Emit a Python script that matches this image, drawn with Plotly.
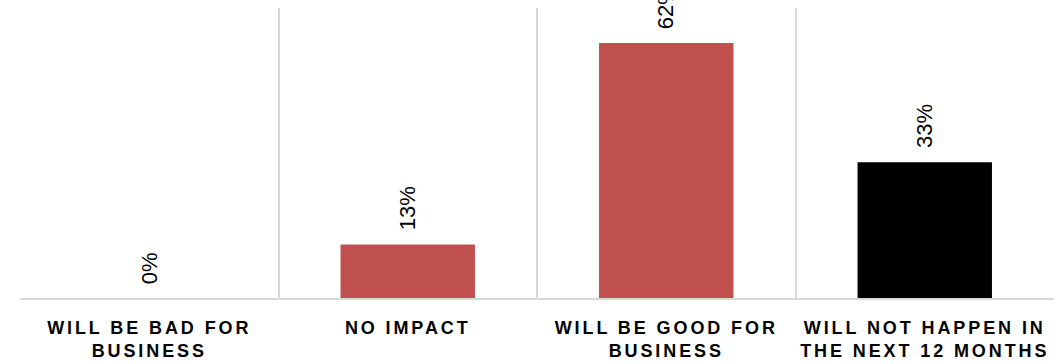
import plotly.graph_objects as go

categories = ["WILL BE BAD FOR<br>BUSINESS", "NO IMPACT", "WILL BE GOOD FOR<br>BUSINESS",
              "WILL NOT HAPPEN IN<br>THE NEXT 12 MONTHS"]
values = [0, 13, 62, 33]
value_labels = ["0%", "13%", "62%", "33%"]
colors = ["#C0504D", "#C0504D", "#C0504D", "#000000"]

fig = go.Figure()
fig.add_trace(go.Bar(x=categories, y=values, marker=dict(color=colors, line=dict(width=0)),
                     width=0.52, hoverinfo="skip"))

for c, v, t in zip(categories, values, value_labels):
    fig.add_annotation(x=c, y=v, text=t, showarrow=False, textangle=-90,
                       yanchor="bottom", xanchor="center", yshift=12,
                       font=dict(family="Liberation Sans", size=22, color="#000000"))

fig.update_layout(
    width=1063, height=364,
    margin=dict(l=20, r=9, t=8, b=66, autoexpand=False),
    paper_bgcolor="white", plot_bgcolor="white",
    showlegend=False,
    bargap=0.48,
)
fig.update_xaxes(
    type="category", range=[-0.5, 3.5], tickson="boundaries", automargin=False,
    showgrid=True, gridcolor="#D9D9D9", gridwidth=2,
    showline=True, linecolor="#D9D9D9", linewidth=2,
    ticks="", tickangle=0, ticklabelstandoff=12,
    tickfont=dict(family="Liberation Sans", size=18, color="#000000", weight="bold"),
)
fig.update_yaxes(range=[0, 70.5], showgrid=False, zeroline=False, showticklabels=False,
                 showline=False, fixedrange=True, automargin=False)

post = """
var gd = document.getElementById('{plot_id}');
function ls(){ gd.querySelectorAll('.xtick text').forEach(function(t){ t.style.letterSpacing='2.9px'; }); }
ls(); gd.on('plotly_afterplot', ls);
"""
fig.write_html("out.html", post_script=post, config={"displayModeBar": False})
